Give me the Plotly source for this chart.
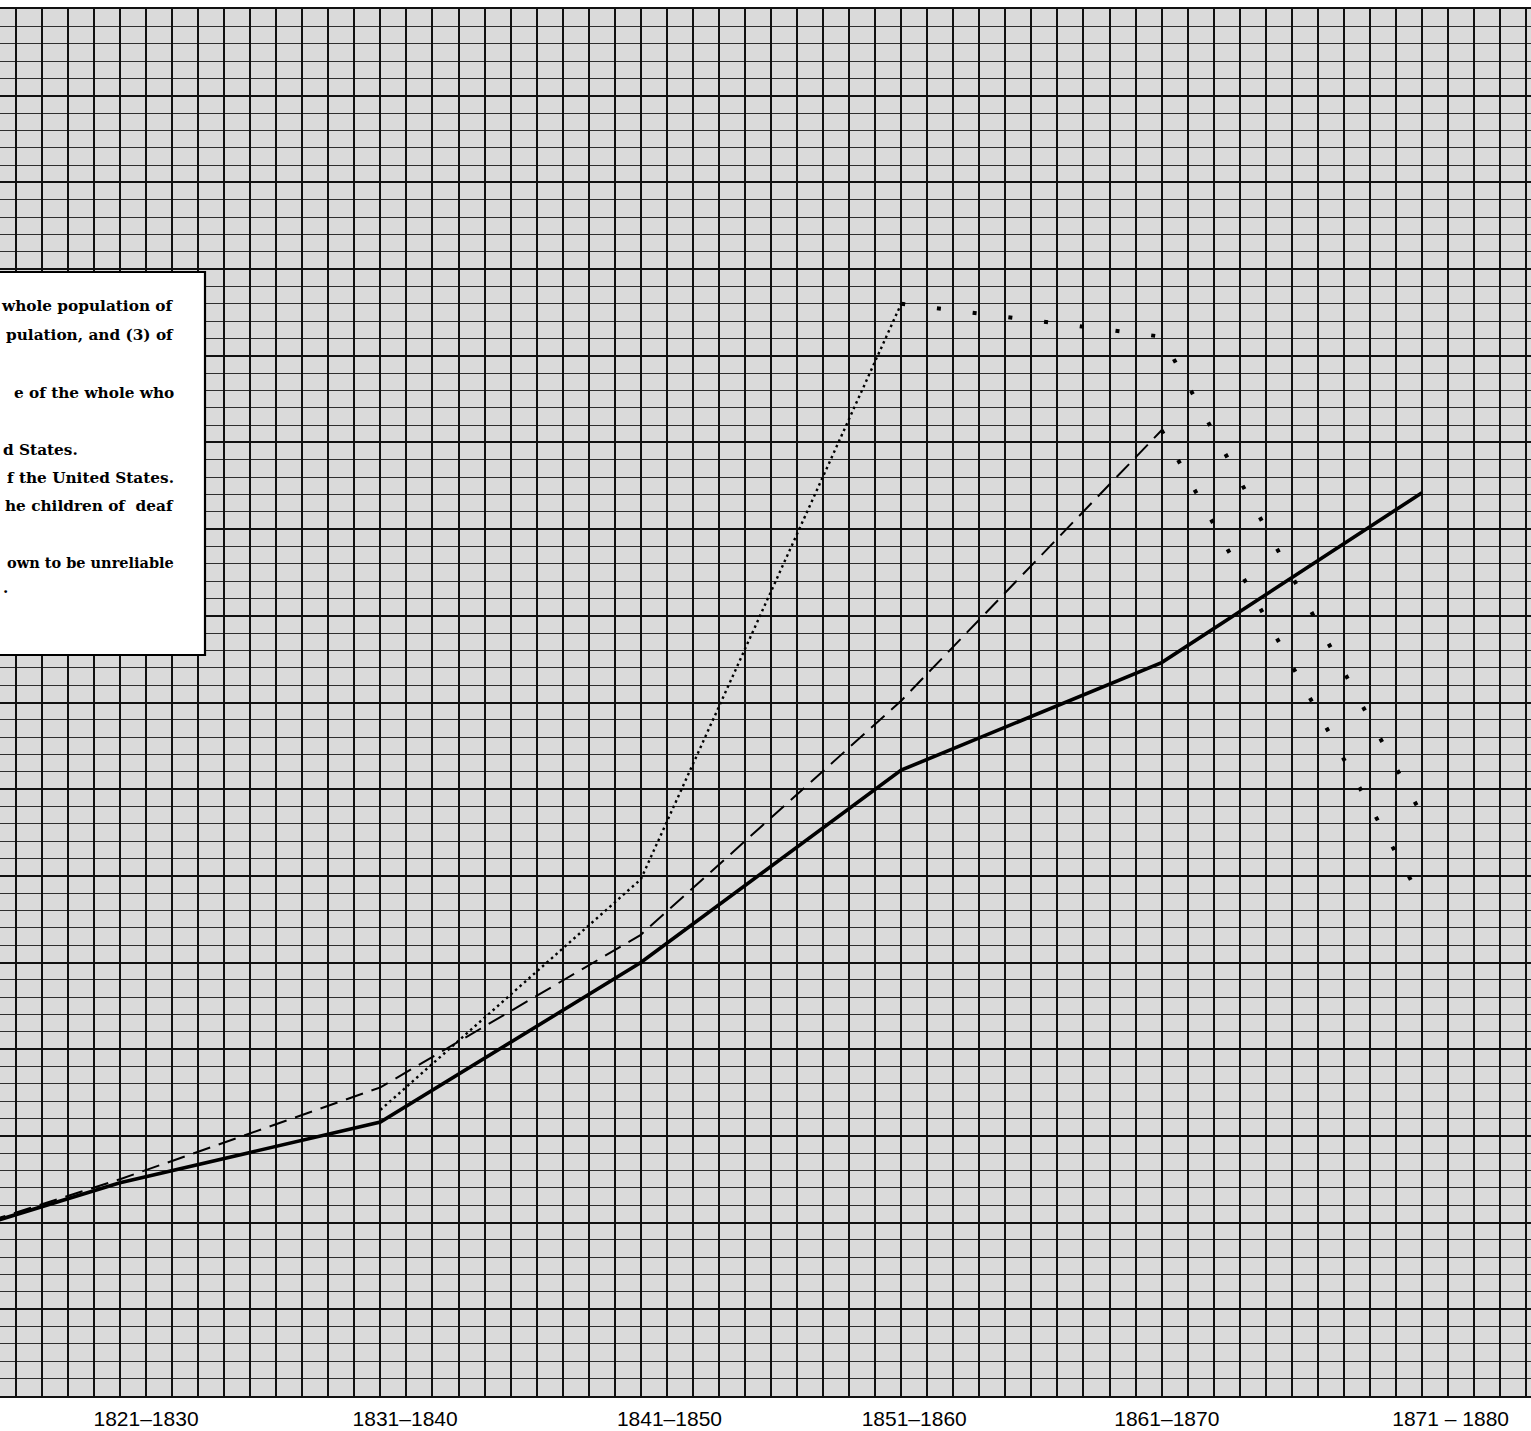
import plotly.graph_objects as go

# ---------------- data (in grid squares) ----------------
decade_index = [-1, 0, 1, 2, 3, 4, 5]
periods = ["1811–1820", "1821–1830", "1831–1840", "1841–1850",
           "1851–1860", "1861–1870", "1871–1880"]
tick_labels = ["1821–1830", "1831–1840", "1841–1850",
               "1851–1860", "1861–1870", "1871 – 1880"]

solid_vals = [7.7, 12.3, 15.8, 25.0, 36.1, 42.3, 52.1]
dashed_vals = [7.7, 12.5, 17.8, 26.6, 40.1, 55.7, None]
dotted_vals = [None, None, 16.5, 29.8, 63.0, None, None]
unreliable_a_vals = [None, None, None, None, 63.0, 61.1, 33.5]
unreliable_b_vals = [None, None, None, None, None, 55.7, 28.6]

legend_lines = ["whole population of", "pulation, and (3) of", "e of the whole who",
                "d States.", "f the United States.", "he children of  deaf",
                "own to be unreliable", "."]

# ---------------- layout geometry ----------------
W, H = 1531, 1431
M_L, M_R, M_T, M_B = 0, 0, 9, 35
PLOT_H = H - M_T - M_B
X_RANGE = [-120 / 260.4, (W - 120) / 260.4]
Y_RANGE = [0, 80]
label_shift = [0.10, 0.095, 0.11, 0.05, 0.02, 0.11]


def px_x(px):
    return px / (W - M_L - M_R)


def px_y(py):
    return (H - M_B - py) / PLOT_H


fig = go.Figure()

fig.add_trace(go.Scatter(x=decade_index, y=solid_vals, mode="lines",
                         line=dict(color="#000000", width=3.6), connectgaps=False,
                         name="solid", hoverinfo="skip"))
fig.add_trace(go.Scatter(x=decade_index, y=dashed_vals, mode="lines",
                         line=dict(color="#000000", width=2.0, dash="18px,9px"),
                         connectgaps=False, name="dashed", hoverinfo="skip"))
fig.add_trace(go.Scatter(x=decade_index, y=dotted_vals, mode="lines",
                         line=dict(color="#000000", width=2.4, dash="2.5px,3.5px"),
                         connectgaps=False, name="dotted", hoverinfo="skip"))
fig.add_trace(go.Scatter(x=decade_index, y=unreliable_a_vals, mode="lines",
                         line=dict(color="#000000", width=4, dash="4px,32px"),
                         connectgaps=False, name="unreliable a", hoverinfo="skip"))
fig.add_trace(go.Scatter(x=decade_index, y=unreliable_b_vals, mode="lines",
                         line=dict(color="#000000", width=4, dash="4px,30px"),
                         connectgaps=False, name="unreliable b", hoverinfo="skip"))
# invisible trace to carry the label axis
fig.add_trace(go.Scatter(x=[], y=[], xaxis="x2", yaxis="y", hoverinfo="skip"))

# legend box (partially cut off at the left edge)
fig.add_shape(type="rect", xref="paper", yref="paper",
              x0=px_x(-5), x1=px_x(205), y0=px_y(655), y1=px_y(272),
              fillcolor="#ffffff", line=dict(color="#000000", width=2.2), layer="above")

legend_y = [306, 335, 393, 450, 478, 506, 562, 588]
legend_right = [True, True, True, False, True, True, True, False]
legend_size = [15.3, 15.3, 15.3, 15.3, 15.3, 15.3, 14.5, 15.3]
for txt, py, right, fs in zip(legend_lines, legend_y, legend_right, legend_size):
    fig.add_annotation(xref="paper", yref="paper",
                       x=px_x(176) if right else px_x(1), y=px_y(py),
                       xanchor="right" if right else "left", yanchor="middle",
                       text=txt, showarrow=False,
                       font=dict(family="DejaVu Serif", size=fs, color="#000000",
                                 weight="bold"))

fig.update_layout(
    width=W, height=H,
    margin=dict(l=M_L, r=M_R, t=M_T, b=M_B, pad=0),
    paper_bgcolor="#ffffff",
    plot_bgcolor="#dadada",
    showlegend=False,
    xaxis=dict(range=X_RANGE, tick0=0, dtick=0.1, showgrid=True,
               gridcolor="#111111", gridwidth=1.7, showticklabels=False,
               ticks="", zeroline=False, showline=True, mirror=True,
               linecolor="#111111", linewidth=2),
    xaxis2=dict(range=X_RANGE, overlaying="x", anchor="y", side="bottom",
                tickvals=[i + s for i, s in zip(decade_index[1:], label_shift)],
                ticktext=tick_labels, showgrid=False, zeroline=False, ticks="",
                ticklabelstandoff=8,
                tickfont=dict(family="Liberation Sans Narrow, Liberation Sans",
                              size=21, color="#000000")),
    yaxis=dict(range=Y_RANGE, tick0=0, dtick=5, showgrid=True,
               gridcolor="#111111", gridwidth=1.7,
               minor=dict(dtick=1, showgrid=True, gridcolor="#2e2e2e", gridwidth=1.1),
               showticklabels=False, ticks="", zeroline=False,
               showline=True, linecolor="#000000", linewidth=6),
)

fig.write_html("out.html", config={"displayModeBar": False},
               post_script="document.body.style.margin='0px';document.body.style.padding='0px';")
